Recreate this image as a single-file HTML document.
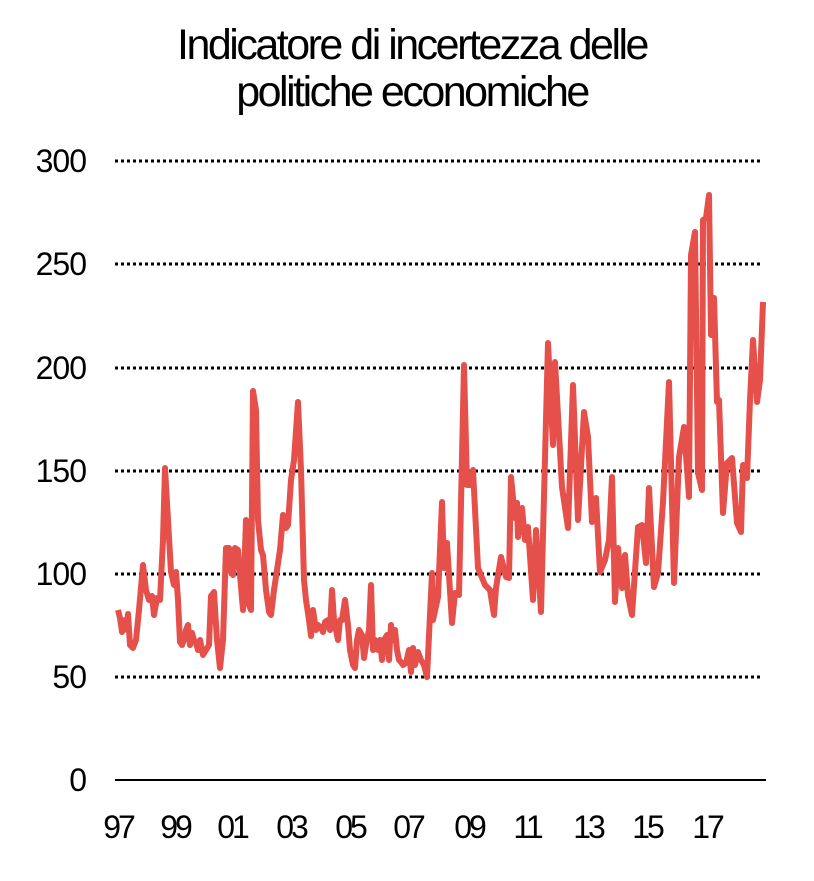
<!DOCTYPE html>
<html><head><meta charset="utf-8"><style>
body{margin:0;background:#fff;}
svg text{font-family:"Liberation Sans",sans-serif;fill:#000;}
</style></head><body>
<svg width="814" height="876" viewBox="0 0 814 876" xmlns="http://www.w3.org/2000/svg">
<text x="412" y="59" font-size="43" text-anchor="middle" letter-spacing="-2.5">Indicatore di incertezza delle</text>
<text x="412" y="106" font-size="43" text-anchor="middle" letter-spacing="-2.5">politiche economiche</text>
<g stroke="#000" stroke-width="3" stroke-dasharray="3,3">
<line x1="115" y1="161" x2="763" y2="161"/>
<line x1="115" y1="264" x2="763" y2="264"/>
<line x1="115" y1="368" x2="763" y2="368"/>
<line x1="115" y1="471" x2="763" y2="471"/>
<line x1="115" y1="574" x2="763" y2="574"/>
<line x1="115" y1="677" x2="763" y2="677"/>
</g>
<line x1="115" y1="780" x2="766" y2="780" stroke="#000" stroke-width="2"/>
<g font-size="32" text-anchor="end" letter-spacing="-1">
<text x="86" y="172">300</text><text x="86" y="275">250</text><text x="86" y="379">200</text>
<text x="86" y="482">150</text><text x="86" y="585">100</text><text x="86" y="688">50</text><text x="86" y="791">0</text>
</g>
<g font-size="32" text-anchor="middle" letter-spacing="-3">
<text x="118" y="838">97</text><text x="175" y="838">99</text><text x="232" y="838">01</text>
<text x="291" y="838">03</text><text x="350" y="838">05</text><text x="408" y="838">07</text>
<text x="469" y="838">09</text><text x="527" y="838">11</text><text x="588" y="838">13</text>
<text x="647" y="838">15</text><text x="707" y="838">17</text>
</g>
<polyline fill="none" stroke="#e5504a" stroke-width="6" stroke-linejoin="round" points="
118,610 120,618 122,632 125,620 127,630 128,614 130,645 133,648 136,640 139,610 143,565 146,590 149,600 152,596 154,615 157,598 160,600 163,540 165,468 168,520 171,572 174,585 176,572 178,600 180,642 182,645 184,640 186,630 188,625 190,645 192,633 194,640 196,643 198,650 200,640 203,655 206,650 209,645 211,596 214,592 217,640 220,668 223,640 226,548 229,548 231,572 233,575 235,548 238,550 240,575 243,610 246,520 249,605 251,610 253,391 256,410 258,520 261,550 263,555 266,590 269,612 271,615 274,590 277,570 280,550 283,515 286,528 288,525 291,480 294,460 298,402 301,470 304,580 306,600 309,620 311,636 313,610 316,630 318,625 321,628 323,632 325,622 328,620 330,630 332,590 334,620 336,630 338,640 340,620 342,620 345,600 348,625 350,650 353,665 355,668 357,640 359,630 362,635 364,658 366,645 369,630 371,585 373,650 375,640 378,650 380,640 382,660 384,640 387,635 389,660 391,625 393,640 395,630 397,650 399,660 401,662 403,665 406,663 409,650 411,672 413,648 415,665 418,652 421,660 424,665 427,677 432,573 433,620 438,597 442,502 444,568 447,543 452,623 455,593 459,595 464,365 467,485 470,485 473,470 478,568 485,585 490,590 494,615 496,588 501,557 506,577 509,578 511,477 515,518 517,503 518,537 522,508 525,540 528,527 533,600 536,530 541,612 548,343 553,445 555,362 562,487 568,528 573,385 578,520 584,412 588,437 592,522 596,498 600,572 605,560 609,540 612,477 615,602 618,548 622,588 625,555 628,595 632,615 638,527 642,525 646,563 649,488 654,587 658,573 663,502 669,382 674,583 679,457 684,427 689,497 691,255 695,232 698,473 702,490 703,220 706,218 709,195 711,335 714,298 717,402 719,400 723,513 727,463 732,458 737,523 741,532 743,465 747,478 750,400 753,340 757,402 760,380 763,302"/>
</svg>
</body></html>
